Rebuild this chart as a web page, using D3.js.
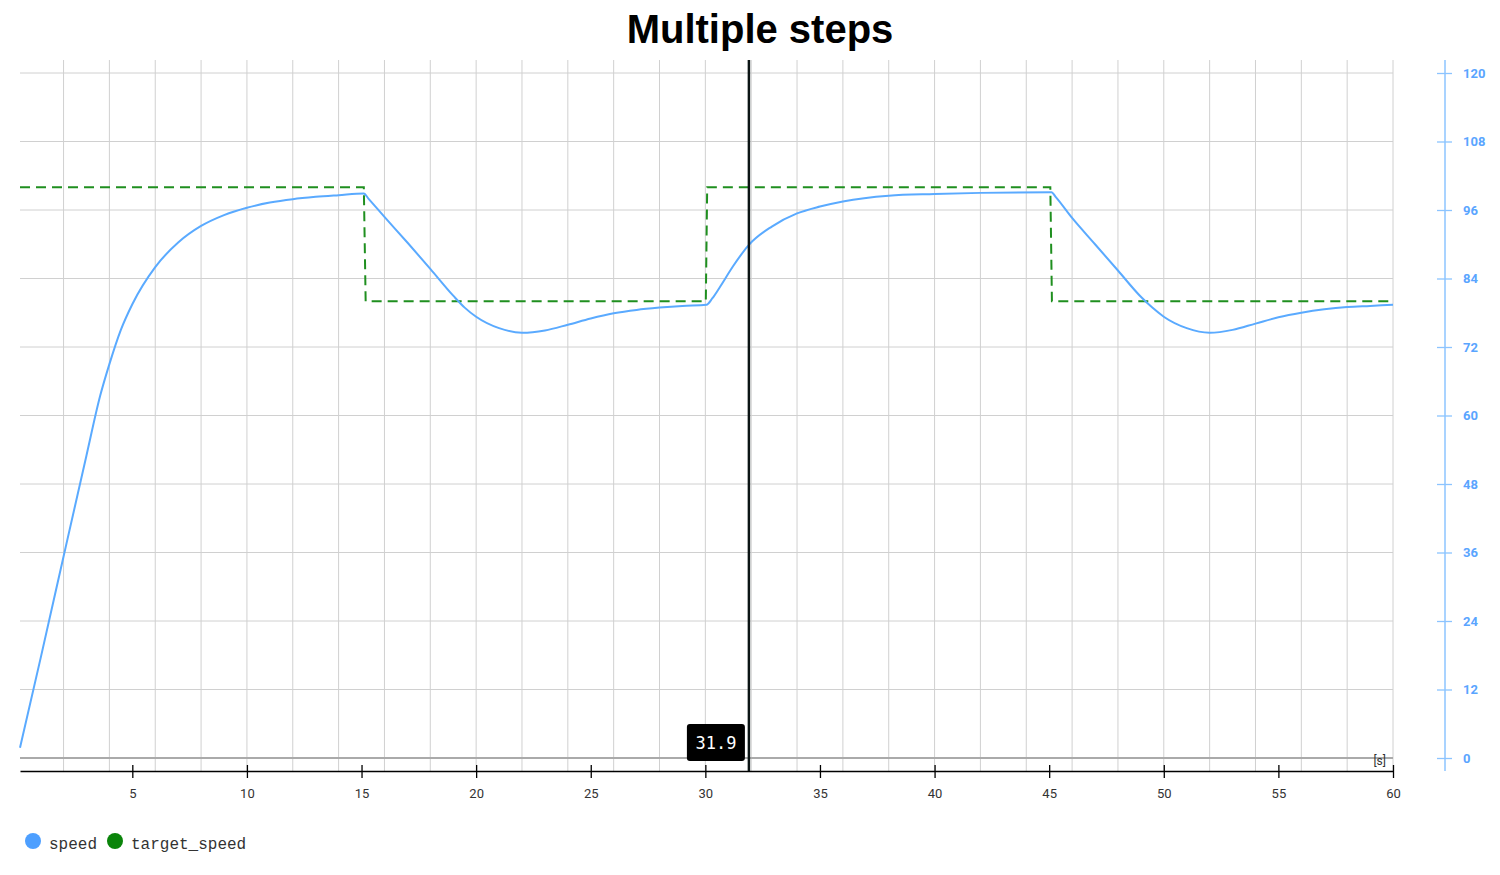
<!DOCTYPE html>
<html>
<head>
<meta charset="utf-8">
<script src="https://cdn.jsdelivr.net/npm/d3@7"></script>
<style>
  body { margin: 0; background: #fff; }
  svg { display: block; }
</style>
</head>
<body>
<div id="chart"></div>
<script>

//declare constants

const FRAME_HEIGHT = 875;
const FRAME_WIDTH = 1500;
const PLOT = {left: 20, right: 1393, top: 60, bottom: 771, zero: 758, max: 73};

// data

const SPEED_TIME = [0.1, 1, 2, 3, 3.6, 4, 4.5, 5, 6, 7, 8, 9, 10, 11, 12, 13, 14, 15.1,
                    15.3, 16, 17, 18, 19, 19.5, 20, 21, 22, 23, 24, 25, 26, 27, 28, 29, 30.05,
                    30.3, 30.65, 31.2, 31.9, 32.9, 34, 35, 36, 38, 40, 42, 45.1,
                    45.3, 46, 47, 48, 49, 49.5, 50, 51, 52, 53, 54, 55, 56, 57, 58, 59, 60];
const SPEED_VALUES = [1.8, 17.5, 35.3, 53, 63.5, 69, 75, 79.5, 86, 90.3, 93.2, 95.1, 96.4, 97.3, 97.9, 98.3, 98.6, 98.9,
                      98.0, 94.8, 90.3, 85.7, 81.0, 78.9, 77.3, 75.3, 74.5, 74.9, 75.9, 77.0, 77.9, 78.5, 78.9, 79.2, 79.4,
                      80.5, 82.6, 86.1, 89.9, 93.1, 95.4, 96.6, 97.5, 98.5, 98.8, 99.0, 99.1,
                      98.2, 94.6, 90.0, 85.4, 80.8, 78.9, 77.3, 75.3, 74.5, 75.0, 76.1, 77.2, 78.0, 78.6, 79.0, 79.2, 79.4];

const TARGET_TIME = [0.1, 15.1, 15.18, 30.02, 30.08, 45.05, 45.12, 60];
const TARGET_VALUES = [100, 100, 80, 80, 100, 100, 80, 80];

const X_TICKS = [5, 10, 15, 20, 25, 30, 35, 40, 45, 50, 55, 60];
const X_GRID = d3.range(2, 61, 2);
const Y_TICKS = [0, 12, 24, 36, 48, 60, 72, 84, 96, 108, 120];
const CURSOR_TIME = 31.9;
const SERIES = ["speed", "target_speed"];

const SPEED_DATA = SPEED_TIME.map((t, i) => ({t: t, v: SPEED_VALUES[i]}));
const TARGET_DATA = TARGET_TIME.map((t, i) => ({t: t, v: TARGET_VALUES[i]}));

const FRAME = d3.select("#chart")
                  .append("svg")
                    .attr("height", FRAME_HEIGHT)
                    .attr("width", FRAME_WIDTH);

const X_SCALE = d3.scaleLinear()
              .domain([0.1, 60])
              .range([PLOT.left, PLOT.right]);

const Y_SCALE = d3.scaleLinear()
              .domain([0, 120])
              .range([PLOT.zero, PLOT.max]);

// title
FRAME.append("text")
      .attr("x", 760)
      .attr("y", 43)
      .attr("text-anchor", "middle")
      .attr("font-family", "'Liberation Sans', Arial, sans-serif")
      .attr("font-weight", "bold")
      .attr("font-size", "40px")
      .attr("fill", "#000")
      .text("Multiple steps");

// grid
FRAME.append("g")
      .selectAll("line")
      .data(X_GRID)
      .enter()
      .append("line")
        .attr("x1", (d) => X_SCALE(d))
        .attr("x2", (d) => X_SCALE(d))
        .attr("y1", PLOT.top)
        .attr("y2", PLOT.bottom)
        .attr("stroke", "#d0d0d0")
        .attr("stroke-width", 1);

FRAME.append("g")
      .selectAll("line")
      .data(Y_TICKS.filter((d) => d > 0))
      .enter()
      .append("line")
        .attr("x1", PLOT.left)
        .attr("x2", PLOT.right)
        .attr("y1", (d) => Y_SCALE(d))
        .attr("y2", (d) => Y_SCALE(d))
        .attr("stroke", "#d0d0d0")
        .attr("stroke-width", 1);

// zero line
FRAME.append("line")
      .attr("x1", PLOT.left)
      .attr("x2", PLOT.right)
      .attr("y1", Y_SCALE(0))
      .attr("y2", Y_SCALE(0))
      .attr("stroke", "#aaaaaa")
      .attr("stroke-width", 2);

// series lines
const LINE = d3.line()
              .x((d) => X_SCALE(d.t))
              .y((d) => Y_SCALE(d.v));

FRAME.append("path")
      .datum(TARGET_DATA)
      .attr("d", LINE.curve(d3.curveLinear))
      .attr("fill", "none")
      .attr("stroke", "#1f8f1f")
      .attr("stroke-width", 2)
      .attr("stroke-dasharray", "10,6");

FRAME.append("path")
      .datum(SPEED_DATA)
      .attr("d", LINE.curve(d3.curveMonotoneX))
      .attr("fill", "none")
      .attr("stroke", "#5aaaff")
      .attr("stroke-width", 2);

// x axis
const X_AXIS = FRAME.append("g")
          .attr("transform", "translate(0," + PLOT.bottom + ")")
          .call(d3.axisBottom(X_SCALE).tickValues(X_TICKS).tickSize(6).tickSizeOuter(0));

X_AXIS.select(".domain").attr("stroke", "#000").attr("stroke-width", 1.3);
X_AXIS.selectAll(".tick line")
        .attr("y1", -6)
        .attr("y2", 7)
        .attr("stroke", "#000")
        .attr("stroke-width", 1.3);
X_AXIS.selectAll(".tick text")
        .attr("y", 18)
        .attr("fill", "#333")
        .attr("font-family", "Roboto, sans-serif")
        .attr("font-size", "13px");

FRAME.append("text")
      .attr("x", 1386)
      .attr("y", 765)
      .attr("text-anchor", "end")
      .attr("font-family", "Roboto, sans-serif")
      .attr("font-size", "12px")
      .attr("fill", "#333")
      .text("[s]");

// right y axis
const Y_AXIS = FRAME.append("g")
          .attr("transform", "translate(1445,0)")
          .call(d3.axisRight(Y_SCALE).tickValues(Y_TICKS).tickSize(7).tickSizeOuter(0));

Y_AXIS.select(".domain")
        .attr("d", "M0," + PLOT.top + "V" + PLOT.bottom)
        .attr("stroke", "#8cc4ff")
        .attr("stroke-width", 1.5);
Y_AXIS.selectAll(".tick line")
        .attr("x1", -8)
        .attr("x2", 7)
        .attr("stroke", "#8cc4ff")
        .attr("stroke-width", 1.3);
Y_AXIS.selectAll(".tick text")
        .attr("x", 18)
        .attr("fill", "#5aa5ff")
        .attr("font-family", "Roboto, sans-serif")
        .attr("font-weight", "bold")
        .attr("font-size", "13px");

// cursor
FRAME.append("line")
      .attr("x1", X_SCALE(CURSOR_TIME))
      .attr("x2", X_SCALE(CURSOR_TIME))
      .attr("y1", PLOT.top)
      .attr("y2", PLOT.bottom)
      .attr("stroke", "#0b1414")
      .attr("stroke-width", 2.5);

FRAME.append("rect")
      .attr("x", X_SCALE(CURSOR_TIME) - 62)
      .attr("y", 724)
      .attr("width", 58)
      .attr("height", 37)
      .attr("rx", 3)
      .attr("fill", "#000");

FRAME.append("text")
      .attr("x", X_SCALE(CURSOR_TIME) - 33)
      .attr("y", 749)
      .attr("text-anchor", "middle")
      .attr("font-family", "'DejaVu Sans Mono', monospace")
      .attr("font-size", "17px")
      .attr("fill", "#fff")
      .text(CURSOR_TIME.toFixed(1));

// legend
const LEGEND_COLORS = ["#4d9fff", "#0a840a"];
const LEGEND_X = [33, 115];

const LEGEND = FRAME.append("g");

LEGEND.selectAll("circle")
      .data(SERIES)
      .enter()
      .append("circle")
        .attr("cx", (d, i) => LEGEND_X[i])
        .attr("cy", 841)
        .attr("r", 8)
        .attr("fill", (d, i) => LEGEND_COLORS[i]);

LEGEND.selectAll("text")
      .data(SERIES)
      .enter()
      .append("text")
        .attr("x", (d, i) => LEGEND_X[i] + 16)
        .attr("y", 849)
        .attr("font-family", "'Liberation Mono', monospace")
        .attr("font-size", "16px")
        .attr("fill", "#333")
        .text((d) => d);

</script>
</body>
</html>
